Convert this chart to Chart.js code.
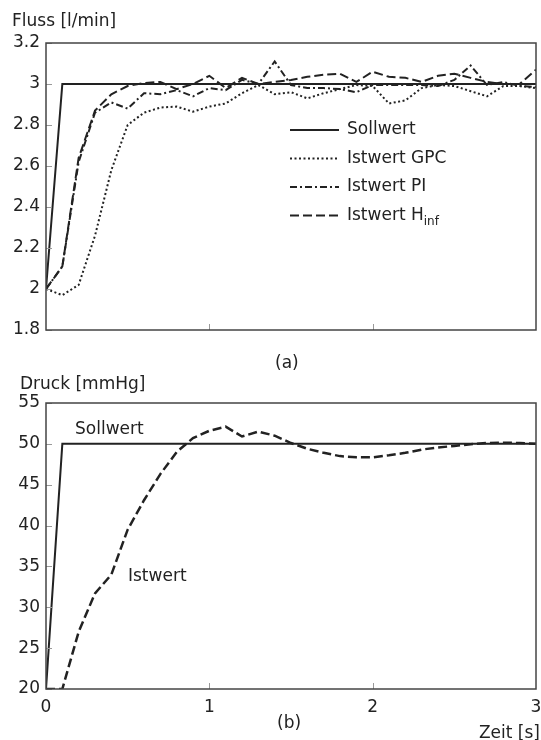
<!DOCTYPE html>
<html>
<head>
  <title>Fluss und Druck</title>
  <script src="https://cdn.jsdelivr.net/npm/chart.js"></script>
  <style>
    body { margin: 0; background: #fff; }
    #wrap { position: relative; width: 541px; height: 740px; font-family: "DejaVu Sans", sans-serif; color: #222; }
    .lbl { position: absolute; font-size: 17px; line-height: 20px; white-space: nowrap; }
    canvas { position: absolute; left: 0; }
  </style>
</head>
<body>
  <div id="wrap">
    <canvas id="flowChart" style="top:0" width="541" height="360"></canvas>
    <canvas id="pressureChart" style="top:360px" width="541" height="380"></canvas>
    <div class="lbl" style="left:12px; top:10px">Fluss [l/min]</div>
    <div class="lbl" style="left:275px; top:352px">(a)</div>
    <div class="lbl" style="left:20px; top:373px">Druck [mmHg]</div>
    <div class="lbl" style="left:75px; top:418px">Sollwert</div>
    <div class="lbl" style="left:128px; top:565px">Istwert</div>
    <div class="lbl" style="left:277px; top:712px">(b)</div>
    <div class="lbl" style="right:1px; top:722px">Zeit [s]</div>
  </div>

  <script>
    // time grid [s]
    const time = [0, 0.1, 0.2, 0.3, 0.4, 0.5, 0.6, 0.7, 0.8, 0.9, 1.0,
                  1.1, 1.2, 1.3, 1.4, 1.5, 1.6, 1.7, 1.8, 1.9, 2.0,
                  2.1, 2.2, 2.3, 2.4, 2.5, 2.6, 2.7, 2.8, 2.9, 3.0];

    // (a) Fluss [l/min]
    const flowSetpoint = [2, 3, 3, 3, 3, 3, 3, 3, 3, 3, 3,
                          3, 3, 3, 3, 3, 3, 3, 3, 3, 3,
                          3, 3, 3, 3, 3, 3, 3, 3, 3, 3];
    const flowGPC = [2.0, 1.97, 2.02, 2.26, 2.58, 2.80, 2.86, 2.885, 2.89, 2.865, 2.89,
                     2.905, 2.955, 2.995, 2.95, 2.96, 2.93, 2.955, 2.975, 2.995, 2.99,
                     2.905, 2.92, 2.98, 2.995, 2.99, 2.965, 2.94, 2.99, 2.99, 2.98];
    const flowPI = [2.0, 2.11, 2.62, 2.86, 2.91, 2.88, 2.955, 2.95, 2.97, 2.94, 2.98,
                    2.97, 3.02, 3.0, 3.11, 2.995, 2.98, 2.98, 2.975, 2.96, 2.995,
                    2.995, 2.995, 2.995, 2.99, 3.02, 3.09, 2.995, 3.01, 2.99, 2.985];
    const flowHinf = [2.0, 2.11, 2.64, 2.87, 2.95, 2.99, 3.005, 3.01, 2.975, 3.0, 3.04,
                      2.98, 3.03, 3.0, 3.01, 3.02, 3.035, 3.045, 3.05, 3.01, 3.06,
                      3.035, 3.03, 3.01, 3.04, 3.05, 3.03, 3.01, 3.0, 3.0, 3.07];
    const flowLabels = ['Sollwert', 'Istwert GPC', 'Istwert PI', 'Istwert H'];

    // (b) Druck [mmHg]
    const pressureSetpoint = [20, 50, 50, 50, 50, 50, 50, 50, 50, 50, 50,
                              50, 50, 50, 50, 50, 50, 50, 50, 50, 50,
                              50, 50, 50, 50, 50, 50, 50, 50, 50, 50];
    const pressureActual = [20, 20, 27, 31.7, 34, 39.5, 43.1, 46.3, 49, 50.7, 51.6,
                            52.1, 50.9, 51.5, 51.0, 50.1, 49.4, 48.9, 48.5, 48.35, 48.35,
                            48.6, 48.9, 49.3, 49.55, 49.75, 49.95, 50.1, 50.15, 50.1, 50.0];

    const ink = '#222';
    Chart.defaults.color = ink;
    Chart.defaults.font = { family: 'DejaVu Sans', size: 17 };

    function toPoints(ys) {
      return ys.map((y, i) => ({ x: time[i], y: y }));
    }

    function line(label, ys, dash, width) {
      return {
        label: label,
        data: toPoints(ys),
        borderColor: ink,
        borderWidth: width || 2,
        borderDash: dash,
        pointRadius: 0,
        tension: 0,
        fill: false
      };
    }

    // frame box + small inner ticks like the original plot
    const framePlugin = {
      id: 'frame',
      afterDatasetsDraw(chart) {
        const ctx = chart.ctx;
        const a = chart.chartArea;
        const xs = chart.scales.x, ys = chart.scales.y;
        ctx.save();
        ctx.strokeStyle = '#999';
        ctx.lineWidth = 1;
        ys.ticks.forEach(t => {
          const y = Math.round(ys.getPixelForValue(t.value)) + 0.5;
          ctx.beginPath(); ctx.moveTo(a.left, y); ctx.lineTo(a.left + 6, y); ctx.stroke();
        });
        xs.ticks.forEach(t => {
          if (t.value <= xs.min || t.value >= xs.max) return;
          const x = Math.round(xs.getPixelForValue(t.value)) + 0.5;
          ctx.beginPath(); ctx.moveTo(x, a.bottom); ctx.lineTo(x, a.bottom - 6); ctx.stroke();
        });
        ctx.strokeStyle = '#444';
        ctx.lineWidth = 1.5;
        ctx.strokeRect(a.left, a.top, a.right - a.left, a.bottom - a.top);
        ctx.restore();
      }
    };

    // legend inside the plot of (a)
    const legendPlugin = {
      id: 'innerLegend',
      afterDraw(chart) {
        if (!chart.options.plugins.innerLegend) return;
        const ctx = chart.ctx;
        ctx.save();
        chart.data.datasets.forEach((ds, i) => {
          const y = 130 + i * 28.5;
          ctx.strokeStyle = ds.borderColor;
          ctx.lineWidth = ds.borderWidth;
          ctx.setLineDash(ds.borderDash || []);
          ctx.beginPath(); ctx.moveTo(290, y); ctx.lineTo(339, y); ctx.stroke();
          ctx.setLineDash([]);
          ctx.fillStyle = ink;
          ctx.textBaseline = 'middle';
          ctx.font = '17px "DejaVu Sans"';
          ctx.fillText(ds.label, 347, y);
          if (i === 3) {
            const w = ctx.measureText(ds.label).width;
            ctx.font = '12px "DejaVu Sans"';
            ctx.fillText('inf', 347 + w, y + 6);
          }
        });
        ctx.restore();
      }
    };

    function axes(yMin, yMax, yStep, xHeight, showX, digits) {
      return {
        x: {
          type: 'linear', min: 0, max: 3,
          grid: { display: false, drawTicks: false },
          border: { display: false },
          ticks: { display: showX, stepSize: 1, padding: 8, maxRotation: 0 },
          afterFit(scale) {
            scale.height = xHeight;
            scale.paddingLeft = 0;
            scale.paddingRight = 0;
          }
        },
        y: {
          type: 'linear', min: yMin, max: yMax,
          grid: { display: false, drawTicks: false },
          border: { display: false },
          ticks: {
            stepSize: yStep, padding: 6,
            callback: v => String(Number(v.toFixed(digits)))
          },
          afterFit(scale) {
            scale.width = 46;
            scale.paddingTop = 0;
            scale.paddingBottom = 0;
          }
        }
      };
    }

    new Chart(document.getElementById('flowChart'), {
      type: 'line',
      data: {
        datasets: [
          line(flowLabels[0], flowSetpoint, []),
          line(flowLabels[1], flowGPC, [2, 2.5]),
          line(flowLabels[2], flowPI, [7, 3, 2, 3]),
          line(flowLabels[3], flowHinf, [9, 4])
        ]
      },
      options: {
        responsive: false,
        animation: false,
        layout: { padding: { top: 43, right: 5, left: 0, bottom: 0 } },
        scales: axes(1.8, 3.2, 0.2, 30, false, 1),
        plugins: { legend: { display: false }, tooltip: { enabled: false }, innerLegend: true }
      },
      plugins: [framePlugin, legendPlugin]
    });

    new Chart(document.getElementById('pressureChart'), {
      type: 'line',
      data: {
        datasets: [
          line('Sollwert', pressureSetpoint, []),
          line('Istwert', pressureActual, [9, 4], 2.5)
        ]
      },
      options: {
        responsive: false,
        animation: false,
        layout: { padding: { top: 43, right: 5, left: 0, bottom: 0 } },
        scales: axes(20, 55, 5, 51, true, 0),
        plugins: { legend: { display: false }, tooltip: { enabled: false }, innerLegend: false }
      },
      plugins: [framePlugin, legendPlugin]
    });
  </script>
</body>
</html>
